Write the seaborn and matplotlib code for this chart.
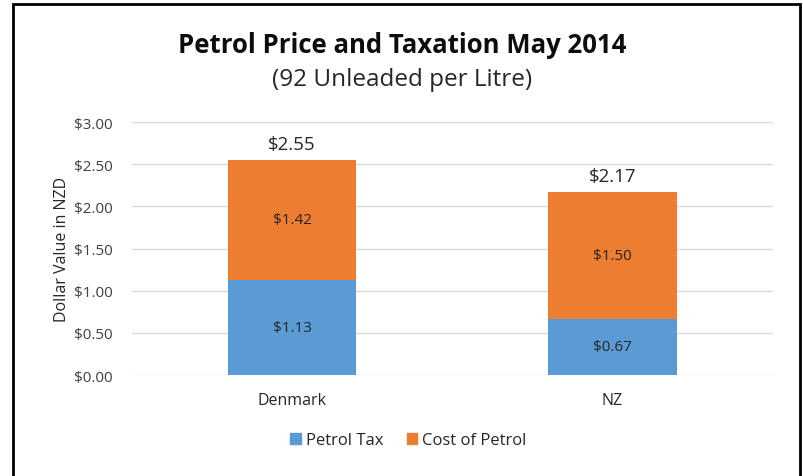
import pandas as pd
import matplotlib
matplotlib.use('Agg')
import matplotlib.pyplot as plt
import seaborn as sns
from matplotlib.patches import Rectangle, Patch

# --- data ---
countries = ['Denmark', 'NZ']
petrol_tax = [1.13, 0.67]
cost_of_petrol = [1.42, 1.50]
totals = [2.55, 2.17]
yticks = [0.0, 0.5, 1.0, 1.5, 2.0, 2.5, 3.0]

BLUE = '#5B9BD5'
ORANGE = '#ED7D31'

sns.set_style('white')
plt.rcParams['font.family'] = ['Open Sans', 'DejaVu Sans']

df = pd.DataFrame({'country': countries, 'tax': petrol_tax,
                   'cost': cost_of_petrol, 'total': totals})

fig = plt.figure(figsize=(8.04, 4.77), dpi=100)
ax = fig.add_axes([0.164, 0.2117, 0.797, 0.530])

# stacked bars: totals (orange) underneath, tax (blue) on top of them
sns.barplot(data=df, x='country', y='total', color=ORANGE, width=0.4,
            saturation=1, linewidth=0, ax=ax, zorder=3)
sns.barplot(data=df, x='country', y='tax', color=BLUE, width=0.4,
            saturation=1, linewidth=0, ax=ax, zorder=4)

ax.set_ylim(0, 3)
ax.set_yticks(yticks)
ax.set_yticklabels([f'${v:.2f}' for v in yticks], fontsize=11, color='#404040')
ax.yaxis.grid(True, color='#d9d9d9', linewidth=1, zorder=0)
ax.set_axisbelow(True)
ax.tick_params(axis='x', labelsize=11.5, colors='#262626', length=0, pad=12)
ax.tick_params(axis='y', length=0, pad=13.5)
ax.set_xlabel('')
ax.set_ylabel('Dollar Value in NZD', fontsize=11.5, color='#262626', labelpad=3)
for s in ax.spines.values():
    s.set_visible(False)

# labels
for i, row in df.iterrows():
    ax.text(i, row['tax'] / 2, f"${row['tax']:.2f}", ha='center', va='center',
            fontsize=11, color='#262626', zorder=5)
    ax.text(i, row['tax'] + row['cost'] / 2, f"${row['cost']:.2f}", ha='center',
            va='center', fontsize=11, color='#262626', zorder=5)
    ax.text(i, row['total'] + 0.08, f"${row['total']:.2f}", ha='center',
            va='bottom', fontsize=13.5, color='#262626', zorder=5)

# titles
fig.text(0.5, 0.905, 'Petrol Price and Taxation May 2014', ha='center',
         va='center', fontsize=18.5, fontweight='bold', color='#0d0d0d')
fig.text(0.5, 0.832, '(92 Unleaded per Litre)', ha='center', va='center',
         fontsize=17.5, color='#262626')

# legend
handles = [Patch(color=BLUE, label='Petrol Tax'),
           Patch(color=ORANGE, label='Cost of Petrol')]
fig.legend(handles=handles, loc='center', bbox_to_anchor=(0.508, 0.075),
           ncol=2, frameon=False, fontsize=12, handlelength=0.65,
           handleheight=0.65, handletextpad=0.3, columnspacing=1.4)

# chart frame
fig.patches.append(Rectangle((0.016, -0.01), 0.979, 1.0, transform=fig.transFigure,
                             fill=False, edgecolor='black', linewidth=2))

fig.savefig('out.png', dpi=100)
